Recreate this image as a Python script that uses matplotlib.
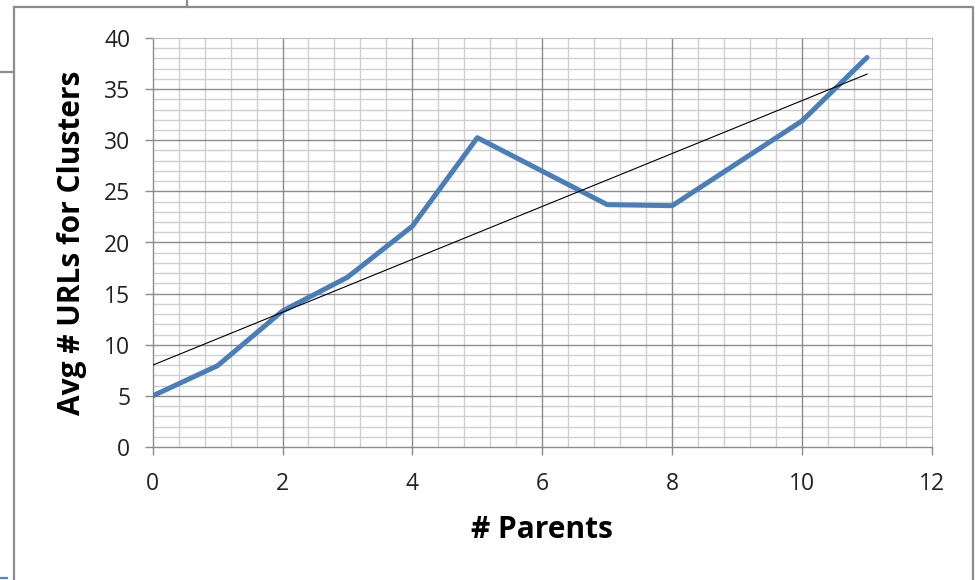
import numpy as np
import matplotlib.pyplot as plt
from matplotlib.lines import Line2D
from matplotlib.ticker import MultipleLocator

plt.rcParams['font.family'] = ['Open Sans', 'DejaVu Sans']

# average URLs per cluster by number of parents
parents = [0, 1, 2, 3, 4, 5, 7, 8, 10, 11]
avg_urls = [5.0, 7.95, 13.3, 16.6, 21.6, 30.25, 23.7, 23.6, 31.9, 38.1]

W, H = 976, 580
fig = plt.figure(figsize=(W / 100, H / 100), dpi=100)
ax = fig.add_axes([152.6 / W, 1 - 447 / H, (932 - 152.6) / W, (447 - 38) / H])

ax.plot(parents, avg_urls, color='#4a7ebb', lw=3.6, solid_joinstyle='round',
        solid_capstyle='round', zorder=3)

# linear trendline
slope, icpt = np.polyfit(parents, avg_urls, 1)
tx = np.array([min(parents), max(parents)])
ax.plot(tx, slope * tx + icpt, color='black', lw=0.8, zorder=4)

ax.set_xlim(0, 12)
ax.set_ylim(0, 40)
ax.xaxis.set_major_locator(MultipleLocator(2))
ax.xaxis.set_minor_locator(MultipleLocator(0.4))
ax.yaxis.set_major_locator(MultipleLocator(5))
ax.yaxis.set_minor_locator(MultipleLocator(1))

# light minor grid, darker major lines drawn on top of it
ax.grid(which='minor', color='#cfcfcf', lw=1.0, zorder=0)
ax.set_axisbelow(True)
for xv in ax.get_xticks():
    if 0 < xv < 12:
        ax.axvline(xv, color='#8c8c8c', lw=1.0, zorder=1)
for yv in ax.get_yticks():
    if 0 < yv < 40:
        ax.axhline(yv, color='#8c8c8c', lw=1.0, zorder=1)

for side in ['top', 'right']:
    ax.spines[side].set_color('#bdbdbd')
for side in ['left', 'bottom']:
    ax.spines[side].set_color('#8c8c8c')
    ax.spines[side].set_linewidth(1.0)

ax.tick_params(which='major', length=6, width=1.0, color='#8c8c8c',
               labelsize=16.5, labelcolor='#222222')
ax.tick_params(which='minor', length=0)
ax.tick_params(axis='y', pad=10)
ax.tick_params(axis='x', pad=12)

fig.text(542 / W, 1 - 530 / H, '# Parents', ha='center', va='center',
         fontsize=21.5, fontweight='bold')
fig.text(72 / W, 1 - 243 / H, 'Avg # URLs for Clusters', ha='center',
         va='center', rotation=90, fontsize=21.5, fontweight='bold')

# chart frame and surrounding edges
def px_line(xs, ys, color='#8c8c8c', lw=1.6):
    fig.add_artist(Line2D([x / W for x in xs], [1 - y / H for y in ys],
                          transform=fig.transFigure, color=color, lw=lw))

px_line([14, 973, 973], [7, 7, 580])
px_line([14, 14], [7, 580])
px_line([187, 187], [0, 7])
px_line([0, 14], [72, 72])
px_line([0, 7], [578, 578], color='#5b85b8')

fig.savefig('out.png', dpi=100)
